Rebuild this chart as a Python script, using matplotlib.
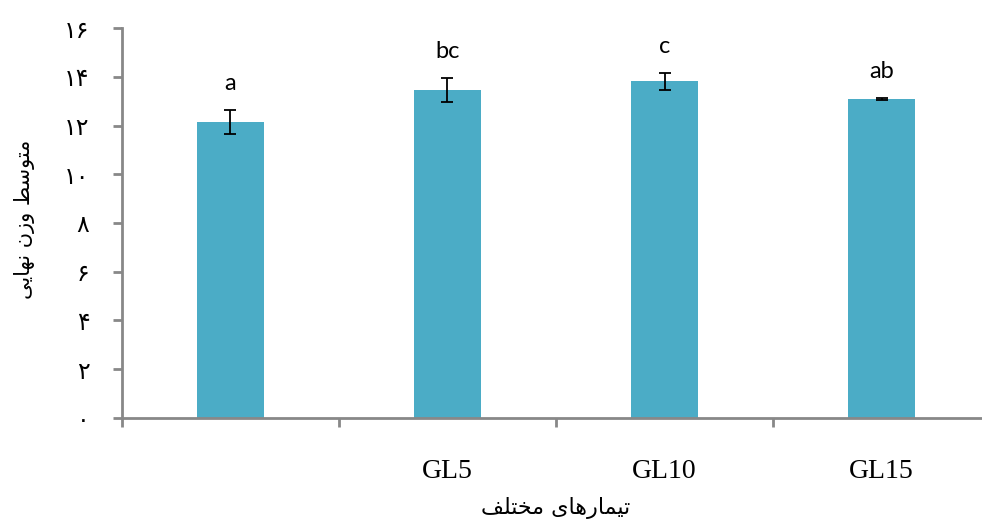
import numpy as np
import matplotlib.pyplot as plt

# treatments (first one has no label in the figure)
treatments = ['', 'GL5', 'GL10', 'GL15']
mean_weight = [12.15, 13.46, 13.83, 13.09]
err = [0.51, 0.49, 0.35, 0.03]
letters = ['a', 'bc', 'c', 'ab']
yticks = [0, 2, 4, 6, 8, 10, 12, 14, 16]

# persian presentation forms: isolated, final, initial, medial
forms = {
    'ا': ('\uFE8D', '\uFE8E', None, None),
    'ت': ('\uFE95', '\uFE96', '\uFE97', '\uFE98'),
    'خ': ('\uFEA5', '\uFEA6', '\uFEA7', '\uFEA8'),
    'ر': ('\uFEAD', '\uFEAE', None, None),
    'ز': ('\uFEAF', '\uFEB0', None, None),
    'س': ('\uFEB1', '\uFEB2', '\uFEB3', '\uFEB4'),
    'ط': ('\uFEC1', '\uFEC2', '\uFEC3', '\uFEC4'),
    'ف': ('\uFED1', '\uFED2', '\uFED3', '\uFED4'),
    'ل': ('\uFEDD', '\uFEDE', '\uFEDF', '\uFEE0'),
    'م': ('\uFEE1', '\uFEE2', '\uFEE3', '\uFEE4'),
    'ن': ('\uFEE5', '\uFEE6', '\uFEE7', '\uFEE8'),
    'ه': ('\uFEE9', '\uFEEA', '\uFEEB', '\uFEEC'),
    'و': ('\uFEED', '\uFEEE', None, None),
    'ی': ('\uFBFC', '\uFBFD', '\uFBFE', '\uFBFF'),
}


def shape(text):
    '''join persian letters and put them in visual order'''
    out = []
    for i, ch in enumerate(text):
        if ch not in forms:
            out.append(ch)
            continue
        prev = text[i - 1] if i > 0 else ' '
        nxt = text[i + 1] if i + 1 < len(text) else ' '
        join_prev = prev in forms and forms[prev][2] is not None
        join_next = nxt in forms and forms[ch][2] is not None
        iso, fin, ini, med = forms[ch]
        if join_prev and join_next:
            out.append(med)
        elif join_prev:
            out.append(fin)
        elif join_next:
            out.append(ini)
        else:
            out.append(iso)
    return ''.join(out)[::-1]


def fa_digits(n):
    return str(n).translate(str.maketrans('0123456789', '۰۱۲۳۴۵۶۷۸۹'))


fig = plt.figure(figsize=(9.82, 5.21), dpi=100)
ax = fig.add_axes([0.1242, 0.1983, 0.884, 0.7474])

x = np.arange(len(treatments))
ax.bar(x, mean_weight, width=0.31, color='#4bacc6', zorder=2)
ax.errorbar(x, mean_weight, yerr=err, fmt='none', ecolor='black',
            elinewidth=1.3, capsize=4, capthick=1.3, zorder=3)

for xi, m, e, lab in zip(x, mean_weight, err, letters):
    ax.annotate(lab, xy=(xi, m + e), xytext=(0, 19), textcoords='offset points',
                ha='center', va='center', fontsize=17, family='Lato')

ax.set_xlim(-0.5, 3.5)
ax.set_ylim(0, 16)
ax.set_yticks(yticks)
ax.set_yticklabels([fa_digits(v) for v in yticks], family='DejaVu Sans', fontsize=17)
ax.set_xticks(x)
ax.set_xticklabels(treatments, family='Liberation Serif', fontsize=20)
ax.set_xticks(np.arange(-0.5, 3.6, 1), minor=True)
ax.tick_params(axis='x', which='major', length=0, pad=30)
ax.tick_params(axis='x', which='minor', length=6.5, width=2, color='#888888')
ax.tick_params(axis='y', length=6.5, width=2, color='#888888', pad=17)

for s in ['top', 'right']:
    ax.spines[s].set_visible(False)
for s in ['left', 'bottom']:
    ax.spines[s].set_color('#888888')
    ax.spines[s].set_linewidth(2)

ax.set_ylabel(shape('متوسط وزن نهایی'), family='DejaVu Sans', fontsize=15)
ax.yaxis.set_label_coords(-0.1, 0.51)
ax.set_xlabel(shape('تیمارهای مختلف'), family='DejaVu Sans', fontsize=16, va='center')
ax.xaxis.set_label_coords(0.5, -0.232)

fig.savefig('out.png', dpi=100)
